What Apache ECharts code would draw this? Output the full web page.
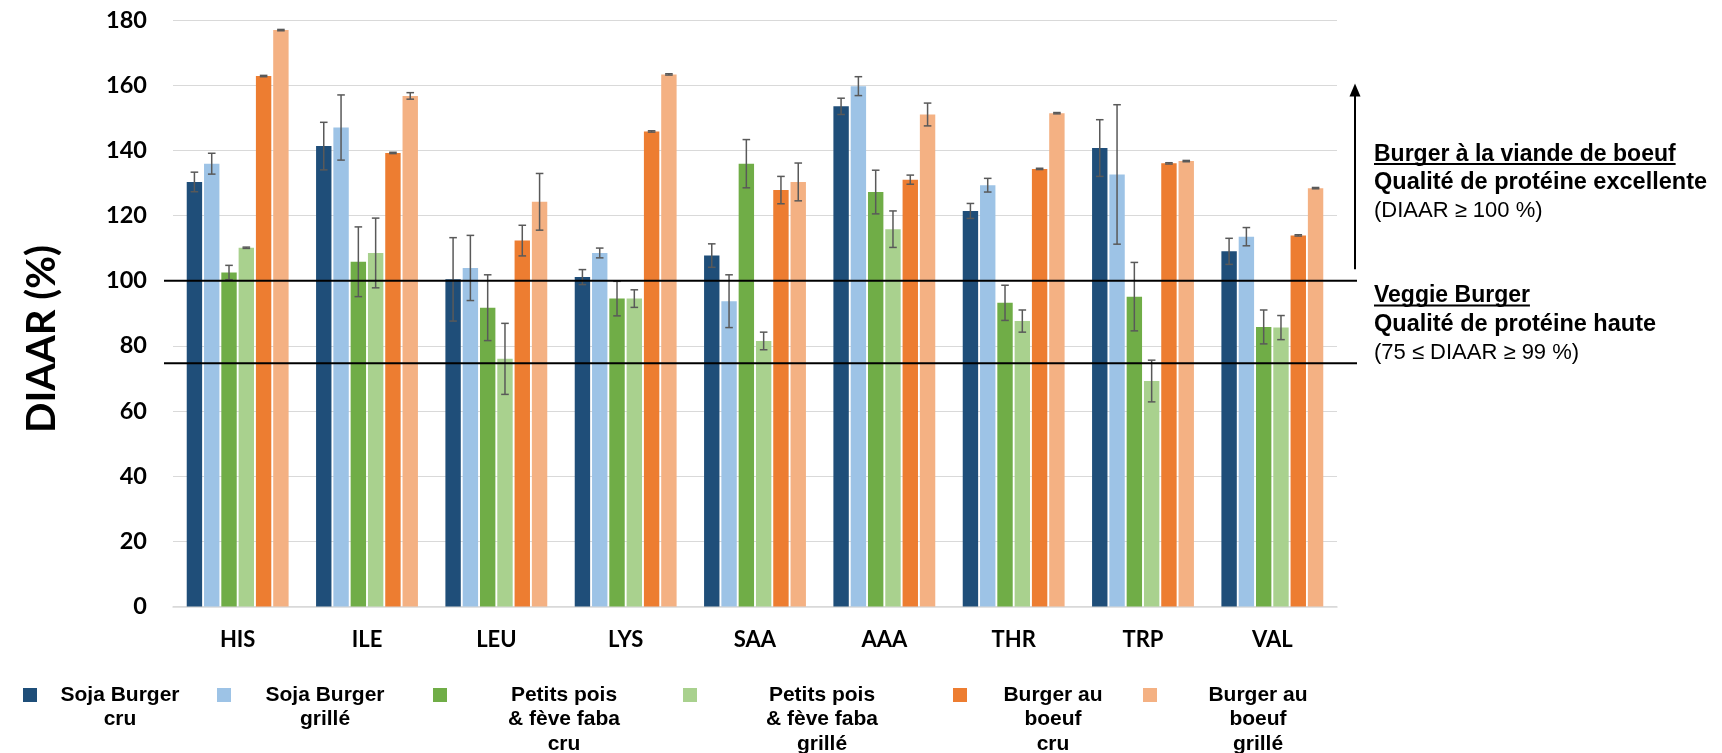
<!DOCTYPE html>
<html>
<head>
<meta charset="utf-8">
<title>DIAAR</title>
<script src="https://cdn.jsdelivr.net/npm/echarts@6/dist/echarts.min.js"></script>
<style>
  html, body { margin: 0; padding: 0; background: #ffffff; }
  #chart { width: 1722px; height: 753px; }
</style>
</head>
<body>
<div id="chart"></div>
<script>
// Amino acids on the category axis
const categories = ['HIS', 'ILE', 'LEU', 'LYS', 'SAA', 'AAA', 'THR', 'TRP', 'VAL'];

// Legend labels, one entry per product, split into display lines
const legendLines = [
  ['Soja Burger', 'cru'],
  ['Soja Burger', 'grillé'],
  ['Petits pois', '& fève faba', 'cru'],
  ['Petits pois', '& fève faba', 'grillé'],
  ['Burger au', 'boeuf', 'cru'],
  ['Burger au', 'boeuf', 'grillé']
];

// DIAAR (%) per amino acid, with standard deviation
const sojaCru        = [130.3, 141.3, 100.4, 101.1, 107.7, 153.5, 121.4, 140.7, 109.0];
const sojaCruErr     = [3.0, 7.3, 12.8, 2.3, 3.6, 2.5, 2.3, 8.7, 4.0];
const sojaGrille     = [135.9, 147.0, 103.9, 108.5, 93.7, 159.7, 129.3, 132.6, 113.5];
const sojaGrilleErr  = [3.2, 10.0, 10.0, 1.5, 8.1, 2.9, 2.1, 21.4, 2.8];
const poisCru        = [102.5, 105.8, 91.7, 94.5, 135.9, 127.2, 93.2, 95.1, 85.8];
const poisCruErr     = [2.2, 10.7, 10.1, 5.3, 7.4, 6.7, 5.4, 10.5, 5.2];
const poisGrille     = [110.1, 108.5, 76.0, 94.5, 81.5, 115.8, 87.6, 69.2, 85.6];
const poisGrilleErr  = [0.2, 10.7, 10.9, 2.7, 2.7, 5.6, 3.4, 6.4, 3.7];
const boeufCru       = [162.8, 139.2, 112.3, 145.8, 127.8, 131.0, 134.3, 136.0, 113.9];
const boeufCruErr    = [0.2, 0.2, 4.7, 0.2, 4.2, 1.4, 0.2, 0.2, 0.2];
const boeufGrille    = [176.9, 156.7, 124.2, 163.3, 130.3, 151.0, 151.4, 136.7, 128.4];
const boeufGrilleErr = [0.2, 1.0, 8.7, 0.2, 5.8, 3.5, 0.2, 0.2, 0.2];

// Y axis ticks
const yMin = 0, yMax = 180, yStep = 20;

// Quality thresholds (DIAAR %)
const thresholdExcellent = 100;
const thresholdHigh = 75;

const seriesValues = [sojaCru, sojaGrille, poisCru, poisGrille, boeufCru, boeufGrille];
const seriesErrors = [sojaCruErr, sojaGrilleErr, poisCruErr, poisGrilleErr, boeufCruErr, boeufGrilleErr];
const colors = ['#1F4E79', '#9DC3E6', '#70AD47', '#A9D18E', '#ED7D31', '#F4B183'];

const BAR_WIDTH = 15.4;
const BAR_SPACE = 1.9;
const BAR_PITCH = BAR_WIDTH + BAR_SPACE;
const nSeries = seriesValues.length;

const chart = echarts.init(document.getElementById('chart'), null, { renderer: 'canvas' });

const names = legendLines.map(l => l.join(' '));

const barSeries = seriesValues.map((vals, k) => ({
  name: names[k],
  type: 'bar',
  data: vals,
  barWidth: BAR_WIDTH,
  barGap: (BAR_SPACE / BAR_WIDTH * 100).toFixed(1) + '%',
  itemStyle: { color: colors[k] },
  emphasis: { disabled: true },
  z: 2
}));

// Error bars: one whisker per bar, offset to the bar's slot within its group
const errData = [];
seriesValues.forEach((vals, k) => {
  vals.forEach((v, i) => errData.push([i, v, seriesErrors[k][i], k]));
});

const errorSeries = {
  type: 'custom',
  name: 'err',
  data: errData,
  z: 5,
  silent: true,
  renderItem(params, api) {
    const cat = api.value(0), v = api.value(1), e = api.value(2), k = api.value(3);
    const hi = api.coord([cat, v + e]);
    const lo = api.coord([cat, v - e]);
    const x = hi[0] + (k - (nSeries - 1) / 2) * BAR_PITCH;
    const cap = 3.8;
    const st = { stroke: '#595959', lineWidth: 1.5 };
    return {
      type: 'group',
      children: [
        { type: 'line', shape: { x1: x, y1: hi[1], x2: x, y2: lo[1] }, style: st },
        { type: 'line', shape: { x1: x - cap, y1: hi[1], x2: x + cap, y2: hi[1] }, style: st },
        { type: 'line', shape: { x1: x - cap, y1: lo[1], x2: x + cap, y2: lo[1] }, style: st }
      ]
    };
  }
};

// Legend placement: one block per product, marker left edge and text column width
const legendMarkerLeft = [23, 217, 433, 683, 953, 1143];
const legendTextWidth = [156, 178, 224, 240, 162, 192];
const LEGEND_LH = 24.6;
const legendTop = 684.5;

const legends = legendLines.map((lines, k) => {
  const n = lines.length;
  return {
    data: [names[k]],
    left: legendMarkerLeft[k],
    top: legendTop,
    padding: 0,
    itemWidth: 14,
    itemHeight: 14,
    icon: 'rect',
    selectedMode: false,
    formatter: () => lines.map(l => '{t|' + l + '}').join('\n'),
    textStyle: {
      padding: [(n - 1) * LEGEND_LH, 0, 0, 0],
      rich: {
        t: {
          width: legendTextWidth[k],
          align: 'center',
          fontSize: 21,
          fontWeight: 'bold',
          fontFamily: '"Liberation Sans", Arial, sans-serif',
          color: '#000000',
          lineHeight: LEGEND_LH
        }
      }
    }
  };
});

chart.setOption({
  animation: false,
  backgroundColor: '#ffffff',
  grid: { left: 173, right: 385, top: 20, bottom: 146.5 },
  legend: legends,
  xAxis: {
    type: 'category',
    data: categories,
    axisTick: { show: false },
    axisLine: { lineStyle: { color: '#d9d9d9', width: 1.5 } },
    axisLabel: {
      margin: 22,
      color: '#000000',
      fontSize: 22,
      fontWeight: 'bold',
      fontFamily: 'Lato, "Noto Sans", sans-serif'
    }
  },
  yAxis: {
    type: 'value',
    min: yMin,
    max: yMax,
    interval: yStep,
    axisLine: { show: false },
    axisTick: { show: false },
    splitLine: { lineStyle: { color: '#d9d9d9', width: 1.2 } },
    axisLabel: {
      margin: 26,
      color: '#000000',
      fontSize: 23.5,
      fontWeight: 'bold',
      fontFamily: 'Lato, "Noto Sans", sans-serif'
    }
  },
  series: [...barSeries, errorSeries]
});

// Annotations tied to the value scale
const yPx = v => chart.convertToPixel({ yAxisIndex: 0 }, v);
const gridRight = 1722 - 385;

const measure = (() => {
  const ctx = document.createElement('canvas').getContext('2d');
  return (text, font) => { ctx.font = font; return ctx.measureText(text).width; };
})();

const ANN_FONT = '"Liberation Sans", Arial, sans-serif';
const boldFont = 'bold 23px ' + ANN_FONT;
const textX = 1374;

function annotationBlock(title, line2, line3, titleY) {
  const w = measure(title, boldFont);
  return [
    { type: 'text', x: textX, y: titleY, style: { text: title, font: boldFont, fill: '#000', verticalAlign: 'middle' } },
    { type: 'line', shape: { x1: textX, y1: titleY + 9.5, x2: textX + w, y2: titleY + 9.5 }, style: { stroke: '#000', lineWidth: 2 } },
    { type: 'text', x: textX, y: titleY + 28.5, style: { text: line2, font: 'bold 23.5px ' + ANN_FONT, fill: '#000', verticalAlign: 'middle' } },
    { type: 'text', x: textX, y: titleY + 56.5, style: { text: line3, font: '22px ' + ANN_FONT, fill: '#000', verticalAlign: 'middle' } }
  ];
}

const y100 = yPx(thresholdExcellent);
const y75 = yPx(thresholdHigh);
const arrowTop = yPx(160.5);
const arrowBottom = yPx(103.5);
const arrowX = 1355;

chart.setOption({
  graphic: [
    {
      type: 'text', x: 42, y: 339, rotation: Math.PI / 2,
      style: { text: 'DIAAR (%)', font: 'bold 40px Lato, "Noto Sans", sans-serif', fill: '#000', align: 'center', verticalAlign: 'middle' }
    },
    { type: 'line', z: 10, shape: { x1: 164, y1: y100, x2: gridRight + 20, y2: y100 }, style: { stroke: '#000', lineWidth: 2 } },
    { type: 'line', z: 10, shape: { x1: 164, y1: y75 + 1, x2: gridRight + 20, y2: y75 + 1 }, style: { stroke: '#000', lineWidth: 2 } },
    { type: 'line', z: 10, shape: { x1: arrowX, y1: arrowBottom, x2: arrowX, y2: arrowTop + 10 }, style: { stroke: '#000', lineWidth: 2 } },
    { type: 'polygon', z: 10, shape: { points: [[arrowX, arrowTop], [arrowX - 5.5, arrowTop + 13], [arrowX + 5.5, arrowTop + 13]] }, style: { fill: '#000' } },
    ...annotationBlock('Burger à la viande de boeuf', 'Qualité de protéine excellente', '(DIAAR ≥ 100 %)', 154.5),
    ...annotationBlock('Veggie Burger', 'Qualité de protéine haute', '(75 ≤ DIAAR ≥ 99 %)', 296)
  ]
});
</script>
</body>
</html>
